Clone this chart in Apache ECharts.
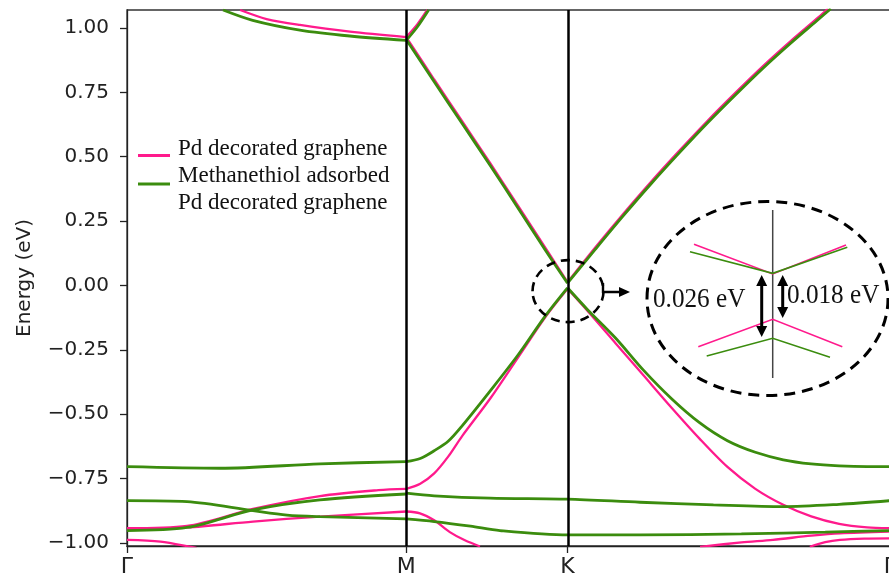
<!DOCTYPE html>
<html lang="en">
<head>
<meta charset="UTF-8">
<title>Band structure: Pd decorated graphene</title>
<script src="https://cdn.jsdelivr.net/npm/echarts@6/dist/echarts.min.js"></script>
<style>html, body {margin: 0; padding: 0; background: #fff;}</style>
</head>
<body>
<div id="chart" style="width: 889px; height: 577px"></div>
<script>
// high symmetry points along the path (|ΓM| = 1)
const kPoints = [0, 1, 1.5774, 2.7321];
const kLabels = ['Γ', 'M', 'K', 'Γ'];
const yTicks = [-1, -0.75, -0.5, -0.25, 0, 0.25, 0.5, 0.75, 1];

// Pd decorated graphene, [k, E]
const pdTop = [[0.405, 1.07], [0.5, 1.035], [0.619, 1.012], [0.798, 0.986], [1, 0.965]];
const pdRise = [[1, 0.965], [1.04, 1.015], [1.075, 1.07]];
const pdCondMK = [[1, 0.964], [1.03, 0.915], [1.1, 0.8], [1.2, 0.638], [1.3, 0.476], [1.4, 0.31], [1.5, 0.143], [1.5774, 0.013]];
const pdCondKG = [[1.5774, 0.013], [1.6774, 0.149], [1.7774, 0.279], [1.8774, 0.404], [1.9774, 0.523], [2.0774, 0.638], [2.1774, 0.747], [2.2774, 0.852], [2.3774, 0.95], [2.4774, 1.043], [2.51, 1.075]];
const pdValMK = [[1, -0.79], [1.05, -0.77], [1.1, -0.73], [1.15, -0.665], [1.2, -0.585], [1.3, -0.44], [1.4, -0.28], [1.5, -0.12], [1.5774, -0.013]];
const pdValKG = [[1.5774, -0.013], [1.65, -0.1], [1.75, -0.225], [1.85, -0.35], [1.95, -0.475], [2.05, -0.595], [2.15, -0.705], [2.25, -0.79], [2.35, -0.852], [2.45, -0.897], [2.55, -0.926], [2.65, -0.94], [2.7321, -0.943]];
const pdLowA = [[0, -0.943], [0.215, -0.934], [0.451, -0.868], [0.691, -0.818], [0.9, -0.795], [1, -0.79]];
const pdLowB = [[0, -0.946], [0.215, -0.94], [0.451, -0.917], [0.691, -0.898], [1, -0.878]];
const pdLowMK = [[1, -0.878], [1.049, -0.885], [1.1, -0.912], [1.156, -0.958], [1.21, -0.99], [1.264, -1.014]];
const pdLowC = [[0, -0.988], [0.12, -0.995], [0.25, -1.02]];
const pdLowD = [[2.052, -1.015], [2.2, -0.998], [2.313, -0.988], [2.45, -0.972], [2.553, -0.963], [2.7321, -0.956]];
const pdLowE = [[2.445, -1.015], [2.5, -0.997], [2.553, -0.988], [2.64, -0.983], [2.7321, -0.982]];

// methanethiol adsorbed Pd decorated graphene
const thTop = [[0.344, 1.07], [0.45, 1.03], [0.619, 0.992], [0.798, 0.969], [1, 0.952]];
const thRise = [[1, 0.952], [1.04, 1.005], [1.08, 1.07]];
const thCondMK = [[1, 0.955], [1.03, 0.906], [1.1, 0.791], [1.2, 0.629], [1.3, 0.467], [1.4, 0.301], [1.5, 0.134], [1.5774, 0.009]];
const thCondKG = [[1.5774, 0.009], [1.6774, 0.141], [1.7774, 0.271], [1.8774, 0.396], [1.9774, 0.515], [2.0774, 0.63], [2.1774, 0.739], [2.2774, 0.844], [2.3774, 0.942], [2.4774, 1.035], [2.52, 1.075]];
const thValMK = [[1, -0.684], [1.05, -0.672], [1.1, -0.642], [1.15, -0.605], [1.2, -0.545], [1.3, -0.41], [1.4, -0.27], [1.5, -0.115], [1.5774, -0.009]];
const thValKG = [[1.5774, -0.009], [1.65, -0.095], [1.75, -0.205], [1.85, -0.33], [1.95, -0.44], [2.05, -0.533], [2.15, -0.603], [2.25, -0.648], [2.35, -0.677], [2.45, -0.693], [2.55, -0.701], [2.65, -0.704], [2.7321, -0.704]];
const thFlat = [[0, -0.704], [0.333, -0.71], [0.691, -0.693], [1, -0.684]];
const thMidGM = [[0, -0.836], [0.215, -0.84], [0.451, -0.875], [0.573, -0.892], [0.691, -0.898], [1, -0.907]];
const thLowGM = [[0, -0.952], [0.215, -0.94], [0.451, -0.872], [0.691, -0.833], [1, -0.81]];
const thMidMG = [[1, -0.807], [1.1, -0.817], [1.3, -0.826], [1.5774, -0.83], [1.837, -0.842], [2.1, -0.852], [2.349, -0.859], [2.55, -0.85], [2.7321, -0.836]];
const thLowMG = [[1, -0.907], [1.1, -0.917], [1.23, -0.935], [1.3355, -0.952], [1.5774, -0.969], [1.837, -0.969], [2.2, -0.965], [2.5, -0.958], [2.7321, -0.952]];

const pdBands = [pdTop, pdRise, pdCondMK, pdCondKG, pdValMK, pdValKG, pdLowA, pdLowB, pdLowMK, pdLowC, pdLowD, pdLowE];
const thBands = [thTop, thRise, thCondMK, thCondKG, thValMK, thValKG, thFlat, thMidGM, thLowGM, thMidMG, thLowMG];

const pink = '#ff1a8c';
const green = '#3b8c0e';
const serif = '"Liberation Serif", "Times New Roman", serif';
const sans = '"DejaVu Sans", sans-serif';

let chart = echarts.init(document.getElementById('chart'));

function band(name, data, color, width, z) {
    return {
        type: 'line', name: name, data: data, symbol: 'none', smooth: 0.3,
        silent: true, z: z, lineStyle: {color: color, width: width}
    };
}

let series = [];
pdBands.forEach(b => series.push(band('Pd decorated graphene', b, pink, 2.3, 2)));
thBands.forEach(b => series.push(band('Methanethiol adsorbed Pd decorated graphene', b, green, 2.8, 3)));
series.push({
    type: 'line', data: [], z: 4,
    markLine: {
        symbol: 'none', silent: true, animation: false, label: {show: false},
        lineStyle: {color: '#000', width: 2.5, type: 'solid'},
        data: [{xAxis: kPoints[1]}, {xAxis: kPoints[2]}]
    }
});

let option = {
    animation: false,
    grid: {
        left: 127, top: 10, width: 763, height: 536, outerBoundsMode: 'none',
        show: true, borderColor: '#333', borderWidth: 1.3
    },
    xAxis: {
        type: 'value', min: 0, max: kPoints[3],
        splitLine: {show: false},
        axisLine: {onZero: false, lineStyle: {color: '#222', width: 1.3}},
        axisTick: {customValues: kPoints, length: 7, lineStyle: {color: '#222', width: 1.3}},
        axisLabel: {
            customValues: kPoints, margin: 10, fontSize: 22, fontFamily: sans, color: '#222',
            formatter: v => kLabels[kPoints.indexOf(v)]
        }
    },
    yAxis: {
        type: 'value', min: -1.012, max: 1.07,
        name: 'Energy (eV)', nameLocation: 'middle', nameGap: 92, nameRotate: 90,
        nameTextStyle: {fontSize: 20, fontFamily: sans, color: '#222'},
        splitLine: {show: false},
        axisLine: {lineStyle: {color: '#222', width: 1.3}},
        axisTick: {customValues: yTicks, length: 7, lineStyle: {color: '#222', width: 1.3}},
        axisLabel: {
            customValues: yTicks, margin: 18, fontSize: 20, fontFamily: sans, color: '#222',
            formatter: v => v.toFixed(2).replace('-', '\u2212')
        }
    },
    series: series
};
chart.setOption(option);

// legend and the zoomed sketch of the gap at K
let kc = chart.convertToPixel({gridIndex: 0}, [kPoints[2], -0.022]);

function arrowHead(x, y, dir) {
    // dir: 1 = pointing down, -1 = pointing up
    return {type: 'polygon', z: 11, shape: {points: [[x - 5.5, y - dir * 11], [x + 5.5, y - dir * 11], [x, y]]}, style: {fill: '#000'}};
}

let graphic = [
    {type: 'line', shape: {x1: 138, y1: 155.5, x2: 170, y2: 155.5}, style: {stroke: pink, lineWidth: 3}},
    {type: 'line', shape: {x1: 138, y1: 184, x2: 170, y2: 184}, style: {stroke: green, lineWidth: 3}},
    {type: 'text', style: {text: 'Pd decorated graphene', x: 178, y: 149, font: '23px ' + serif, fill: '#111', verticalAlign: 'middle'}},
    {type: 'text', style: {text: 'Methanethiol adsorbed', x: 178, y: 175.5, font: '23px ' + serif, fill: '#111', verticalAlign: 'middle'}},
    {type: 'text', style: {text: 'Pd decorated graphene', x: 178, y: 202.5, font: '23px ' + serif, fill: '#111', verticalAlign: 'middle'}},

    // small dashed ring around K and the pointer
    {type: 'ellipse', shape: {cx: kc[0] + 0.5, cy: kc[1], rx: 35.5, ry: 31}, style: {fill: 'none', stroke: '#000', lineWidth: 2.6, lineDash: [9, 6]}, z: 10},
    {type: 'polyline', shape: {points: [[603, 283], [603, 292], [620, 292]]}, style: {stroke: '#000', lineWidth: 2.4, fill: 'none'}, z: 10},
    {type: 'polygon', shape: {points: [[619, 287], [630, 292], [619, 297]]}, style: {fill: '#000'}, z: 10},

    // big dashed ellipse with the sketch
    {type: 'ellipse', shape: {cx: 767.5, cy: 298.5, rx: 120.5, ry: 97}, style: {fill: 'none', stroke: '#000', lineWidth: 3, lineDash: [11, 7]}, z: 10},
    {type: 'line', shape: {x1: 772.7, y1: 210, x2: 772.7, y2: 378}, style: {stroke: '#444', lineWidth: 1.5}, z: 11},
    {type: 'polyline', shape: {points: [[694, 244.3], [772.7, 274], [846, 245]]}, style: {stroke: pink, lineWidth: 1.6, fill: 'none'}, z: 11},
    {type: 'polyline', shape: {points: [[690, 251.7], [772.7, 273.3], [847.3, 247.3]]}, style: {stroke: green, lineWidth: 1.6, fill: 'none'}, z: 11},
    {type: 'polyline', shape: {points: [[698.3, 346.7], [772.7, 319.3], [842.3, 346.7]]}, style: {stroke: pink, lineWidth: 1.6, fill: 'none'}, z: 11},
    {type: 'polyline', shape: {points: [[706.7, 356], [772.7, 338.3], [830, 357.3]]}, style: {stroke: green, lineWidth: 1.6, fill: 'none'}, z: 11},
    {type: 'line', shape: {x1: 761.7, y1: 284, x2: 761.7, y2: 328}, style: {stroke: '#000', lineWidth: 3}, z: 11},
    arrowHead(761.7, 275, -1),
    arrowHead(761.7, 337, 1),
    {type: 'line', shape: {x1: 782.7, y1: 284, x2: 782.7, y2: 309}, style: {stroke: '#000', lineWidth: 3}, z: 11},
    arrowHead(782.7, 275, -1),
    arrowHead(782.7, 318, 1),
    {type: 'text', style: {text: '0.026 eV', x: 653, y: 300, font: '28px ' + serif, fill: '#111', verticalAlign: 'middle'}, scaleX: 0.9, originX: 653, z: 12},
    {type: 'text', style: {text: '0.018 eV', x: 787, y: 296, font: '28px ' + serif, fill: '#111', verticalAlign: 'middle'}, scaleX: 0.9, originX: 787, z: 12}
];
chart.setOption({graphic: graphic});
</script>
</body>
</html>
